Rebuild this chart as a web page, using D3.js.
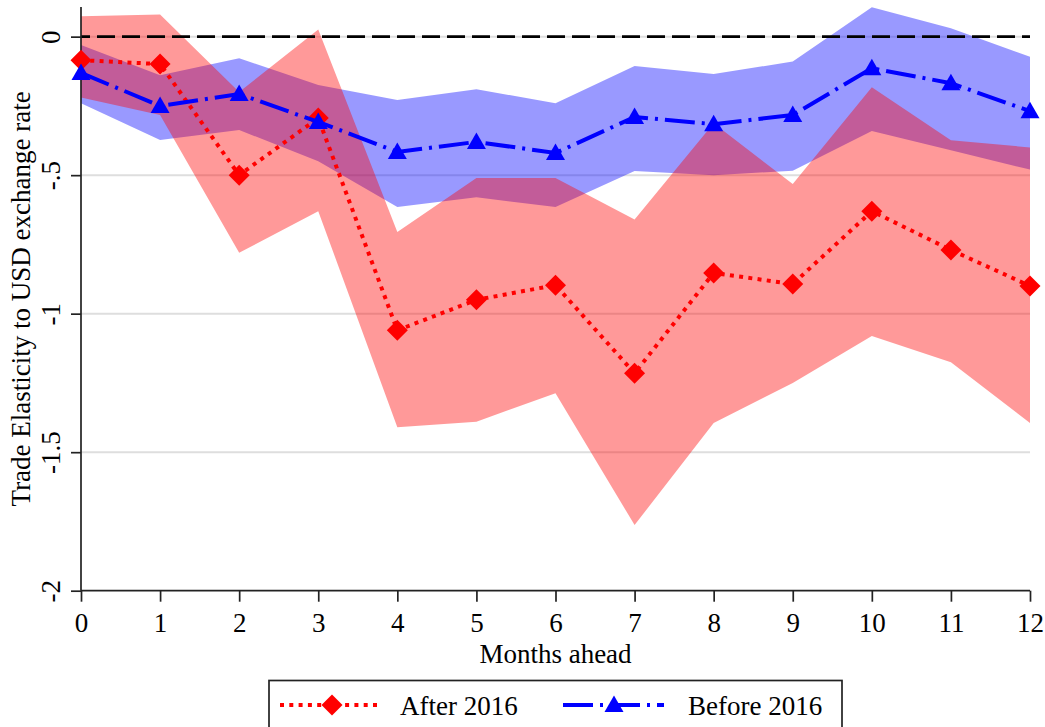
<!DOCTYPE html>
<html>
<head>
<meta charset="utf-8">
<script src="https://cdn.jsdelivr.net/npm/d3@7"></script>
<style>
  html, body { margin: 0; padding: 0; background: #fff; }
  svg { display: block; }
  text { font-family: "Liberation Serif", "Times New Roman", serif; fill: #000; }
</style>
</head>
<body>
<svg id="chart" width="1045" height="727"></svg>
<script>
// ---- data ----
const months = [0, 1, 2, 3, 4, 5, 6, 7, 8, 9, 10, 11, 12];
const afterEst   = [-0.085, -0.099, -0.50, -0.294, -1.06, -0.95, -0.897, -1.215, -0.853, -0.893, -0.63, -0.77, -0.90];
const afterUpper = [0.074, 0.08, -0.20, 0.026, -0.705, -0.51, -0.51, -0.66, -0.313, -0.532, -0.183, -0.374, -0.40];
const afterLower = [-0.22, -0.283, -0.78, -0.63, -1.41, -1.39, -1.287, -1.763, -1.395, -1.25, -1.081, -1.175, -1.395];
const beforeEst   = [-0.131, -0.25, -0.207, -0.308, -0.416, -0.38, -0.42, -0.29, -0.316, -0.283, -0.114, -0.168, -0.269];
const beforeUpper = [-0.03, -0.139, -0.078, -0.175, -0.229, -0.19, -0.24, -0.106, -0.135, -0.09, 0.106, 0.03, -0.073];
const beforeLower = [-0.24, -0.373, -0.337, -0.45, -0.615, -0.58, -0.615, -0.485, -0.50, -0.484, -0.341, -0.41, -0.48];
const yTicks = [0, -0.5, -1, -1.5, -2];
const yTickLabels = ["0", "-.5", "-1", "-1.5", "-2"];
const xTicks = months;
const seriesNames = ["After 2016", "Before 2016"];
const xTitle = "Months ahead";
const yTitle = "Trade Elasticity to USD exchange rate";

// ---- layout ----
const svg = d3.select("#chart");
const x = d3.scaleLinear().domain([0, 12]).range([81, 1030]);
const y = d3.scaleLinear().domain([-2, 0.107]).range([590.7, 7]);
const FONT = 27;

// gridlines
svg.append("g").selectAll("line").data(yTicks.filter(d => d !== -2)).join("line")
  .attr("x1", x(0)).attr("x2", x(12))
  .attr("y1", d => y(d)).attr("y2", d => y(d))
  .attr("stroke", "#dedede").attr("stroke-width", 2);

// bands
const rows = months.map((m, i) => ({m, aE: afterEst[i], aU: afterUpper[i], aL: afterLower[i],
  bE: beforeEst[i], bU: beforeUpper[i], bL: beforeLower[i]}));

svg.append("path").datum(rows)
  .attr("d", d3.area().x(d => x(d.m)).y0(d => y(d.bL)).y1(d => y(d.bU)))
  .attr("fill", "rgb(0,0,255)").attr("fill-opacity", 0.4);
svg.append("path").datum(rows)
  .attr("d", d3.area().x(d => x(d.m)).y0(d => y(d.aL)).y1(d => y(d.aU)))
  .attr("fill", "rgb(255,0,0)").attr("fill-opacity", 0.4);

// zero line
svg.append("line")
  .attr("x1", x(0)).attr("x2", x(12)).attr("y1", y(0)).attr("y2", y(0))
  .attr("stroke", "#000").attr("stroke-width", 2.7)
  .attr("stroke-dasharray", "18,7").attr("stroke-dashoffset", 9);

// axes
const yAxis = d3.axisLeft(y).tickValues(yTicks).tickSize(10).tickFormat((d, i) => yTickLabels[i]);
const gy = svg.append("g").attr("transform", `translate(${x(0)},0)`).call(yAxis);
gy.select(".domain").attr("d", `M0,${y.range()[1]}V${y.range()[0]}`).attr("stroke", "#222").attr("stroke-width", 1.7);
gy.selectAll(".tick line").attr("stroke", "#222").attr("stroke-width", 1.7);
gy.selectAll(".tick text")
  .attr("font-size", FONT).attr("x", null).attr("dy", null)
  .attr("transform", "translate(-21,0) rotate(-90)")
  .attr("text-anchor", "middle").attr("fill", "#000")
  .style("font-family", '"Liberation Serif", "Times New Roman", serif');

const xAxis = d3.axisBottom(x).tickValues(xTicks).tickSize(11).tickFormat(d3.format("d"));
const gx = svg.append("g").attr("transform", `translate(0,${y(-2)})`).call(xAxis);
gx.select(".domain").attr("d", `M${x(0)},0H${x(12)}`).attr("stroke", "#222").attr("stroke-width", 1.7);
gx.selectAll(".tick line").attr("stroke", "#222").attr("stroke-width", 1.7);
gx.selectAll(".tick text")
  .attr("font-size", FONT).attr("y", 41.5).attr("dy", null).attr("fill", "#000")
  .style("font-family", '"Liberation Serif", "Times New Roman", serif');

// axis titles
svg.append("text").attr("x", (x(0) + x(12)) / 2).attr("y", 662.5)
  .attr("text-anchor", "middle").attr("font-size", FONT).text(xTitle);
svg.append("text")
  .attr("transform", `translate(30,${(y.range()[0] + y.range()[1]) / 2}) rotate(-90)`)
  .attr("text-anchor", "middle").attr("font-size", FONT).text(yTitle);

// marker shapes
const diamond = (cx, cy) => `M${cx},${cy - 10.5}L${cx + 10.5},${cy}L${cx},${cy + 10.5}L${cx - 10.5},${cy}Z`;
const triangle = (cx, cy) => `M${cx},${cy - 9.5}L${cx + 9.5},${cy + 7}L${cx - 9.5},${cy + 7}Z`;

// After 2016 line
svg.append("path").datum(rows)
  .attr("d", d3.line().x(d => x(d.m)).y(d => y(d.aE)))
  .attr("fill", "none").attr("stroke", "#ff0000").attr("stroke-width", 4)
  .attr("stroke-dasharray", "4,5.3");
svg.append("g").selectAll("path").data(rows).join("path")
  .attr("d", d => diamond(x(d.m), y(d.aE))).attr("fill", "#ff0000");

// Before 2016 line
svg.append("path").datum(rows)
  .attr("d", d3.line().x(d => x(d.m)).y(d => y(d.bE)))
  .attr("fill", "none").attr("stroke", "#0000ff").attr("stroke-width", 4)
  .attr("stroke-dasharray", "30,7,3,7");
svg.append("g").selectAll("path").data(rows).join("path")
  .attr("d", d => triangle(x(d.m), y(d.bE))).attr("fill", "#0000ff");

// legend
const lg = svg.append("g");
lg.append("rect").attr("x", 269).attr("y", 680.5).attr("width", 573).attr("height", 80)
  .attr("fill", "#fff").attr("stroke", "#222").attr("stroke-width", 1.7);
lg.append("line").attr("x1", 280).attr("x2", 380).attr("y1", 705).attr("y2", 705)
  .attr("stroke", "#ff0000").attr("stroke-width", 4).attr("stroke-dasharray", "4,5.3");
lg.append("path").attr("d", diamond(332, 705)).attr("fill", "#ff0000");
lg.append("text").attr("x", 400).attr("y", 715).attr("font-size", FONT).text(seriesNames[0]);
lg.append("line").attr("x1", 563).attr("x2", 664).attr("y1", 705).attr("y2", 705)
  .attr("stroke", "#0000ff").attr("stroke-width", 4).attr("stroke-dasharray", "30,7,3,7");
lg.append("path").attr("d", triangle(614, 705)).attr("fill", "#0000ff");
lg.append("text").attr("x", 688).attr("y", 715).attr("font-size", FONT).text(seriesNames[1]);
</script>
</body>
</html>
